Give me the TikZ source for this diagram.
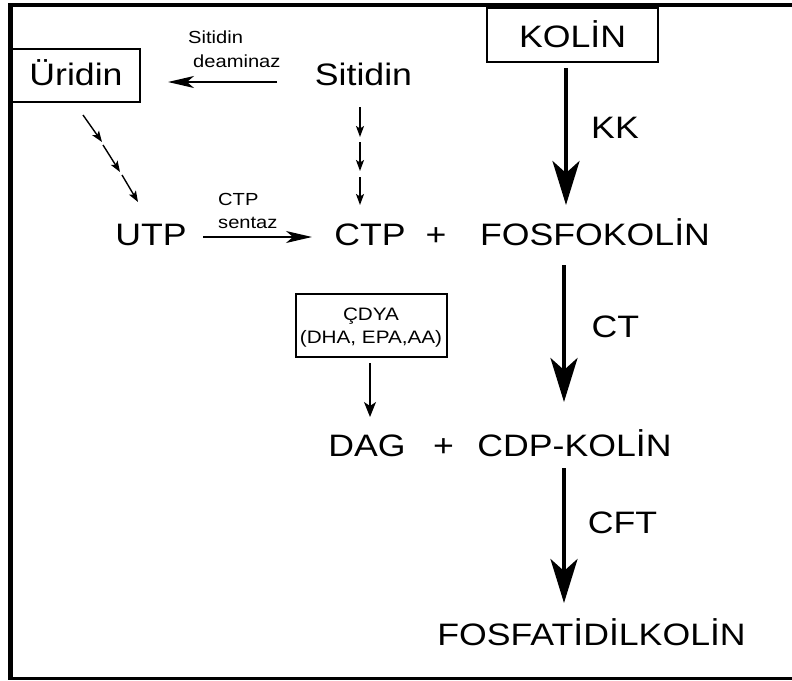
\documentclass[tikz,border=0pt]{standalone}
\usepackage{fontspec}
\usepackage{graphicx}
\setmainfont{Liberation Sans}
\usetikzlibrary{arrows.meta}
\newcommand\sx[1]{\scalebox{1.15}[1]{#1}}
\begin{document}
\begin{tikzpicture}[x=1pt,y=-1pt,
  bigtext/.style={font=\fontsize{31}{36}\selectfont, inner sep=0pt, anchor=base},
  smalltext/.style={font=\fontsize{17.5}{20}\selectfont, inner sep=0pt, anchor=base west},
  boxtext/.style={font=\fontsize{18}{21}\selectfont, inner sep=0pt, anchor=base},
  boxed/.style={draw, line width=2.5pt, inner sep=0pt, font=\fontsize{31}{36}\selectfont},
  bigarrow/.style={line width=4pt, -{Stealth[length=44pt,width=27pt,inset=12pt]}},
  medarrow/.style={line width=1.4pt, -{Stealth[length=26pt,width=12pt,inset=7pt]}},
  smallarrow/.style={line width=1.4pt, -{Stealth[length=11pt,width=8pt,inset=2.5pt]}},
  dyaarrow/.style={line width=1.4pt, -{Stealth[length=15pt,width=12pt,inset=4pt]}}
]
\useasboundingbox (0,0) rectangle (792,680);
% frame
\fill (7.5,3.3) rectangle (13,680);
\fill (7.5,3.3) rectangle (792,7.3);
\fill (7.5,677.3) rectangle (792,679.7);

% boxed nodes
\node[boxed, minimum width=128pt, minimum height=53pt, text height=26pt, text depth=7pt] (uridin) at (76,75.5) {\sx{Üridin}};
\node[boxed, minimum width=171pt, minimum height=54pt, text height=26pt, text depth=2pt] (kolin) at (572.5,35) {\sx{KOLİN}};
\node[draw, line width=2.5pt, minimum width=151pt, minimum height=63pt, inner sep=0pt] (cdya) at (371.5,325.5) {};
\node[boxtext] (cdya1) at (371,320) {\sx{ÇDYA}};
\node[boxtext] (cdya2) at (371,343) {\sx{(DHA, EPA,AA)}};

% main texts
\node[bigtext] (sitidin) at (363.5,85) {\sx{Sitidin}};
\node[bigtext] (utp) at (151,245) {\sx{UTP}};
\node[bigtext] (ctp) at (370,245) {\sx{CTP}};
\node[bigtext] (plus1) at (436,245) {\sx{+}};
\node[bigtext] (fosfo) at (595,245) {\sx{FOSFOKOLİN}};
\node[bigtext] (kk) at (615,138) {\sx{KK}};
\node[bigtext] (ct) at (615.5,337) {\sx{CT}};
\node[bigtext] (dag) at (367,456) {\sx{DAG}};
\node[bigtext] (plus2) at (443.5,456) {\sx{+}};
\node[bigtext] (cdp) at (574.5,456) {\sx{CDP-KOLİN}};
\node[bigtext] (cft) at (622.5,533) {\sx{CFT}};
\node[bigtext] (pc) at (591.5,645) {\sx{FOSFATİDİLKOLİN}};

% small labels
\node[smalltext] (sd1lab) at (188,43) {\sx{Sitidin}};
\node[smalltext] (sd2lab) at (193,67) {\sx{deaminaz}};
\node[smalltext] (cs1lab) at (218,205) {\sx{CTP}};
\node[smalltext] (cs2lab) at (218,228) {\sx{sentaz}};

% connector end points
\coordinate (sdA) at (277,82);   \coordinate (sdB) at (168,82);
\coordinate (d1A) at (83,115);   \coordinate (d1B) at (102,142);
\coordinate (d2A) at (103,145);  \coordinate (d2B) at (120,172);
\coordinate (d3A) at (122,175);  \coordinate (d3B) at (138,202);
\coordinate (v1A) at (360,107);  \coordinate (v1B) at (360,137);
\coordinate (v2A) at (360,142);  \coordinate (v2B) at (360,171);
\coordinate (v3A) at (360,177);  \coordinate (v3B) at (360,205);
\coordinate (usA) at (203,237);  \coordinate (usB) at (312,237);
\coordinate (kkA) at (566,68);   \coordinate (kkB) at (566,205);
\coordinate (ctA) at (564,265);  \coordinate (ctB) at (564,402);
\coordinate (cfA) at (564,468);  \coordinate (cfB) at (564,603);
\coordinate (dyA) at (370,363);  \coordinate (dyB) at (370,417);

\draw[medarrow] (sdA) -- (sdB);
\draw[smallarrow] (d1A) -- (d1B);
\draw[smallarrow] (d2A) -- (d2B);
\draw[smallarrow] (d3A) -- (d3B);
\draw[smallarrow] (v1A) -- (v1B);
\draw[smallarrow] (v2A) -- (v2B);
\draw[smallarrow] (v3A) -- (v3B);
\draw[medarrow] (usA) -- (usB);
\draw[bigarrow] (kkA) -- (kkB);
\draw[bigarrow] (ctA) -- (ctB);
\draw[bigarrow] (cfA) -- (cfB);
\draw[dyaarrow] (dyA) -- (dyB);
\end{tikzpicture}
\end{document}
